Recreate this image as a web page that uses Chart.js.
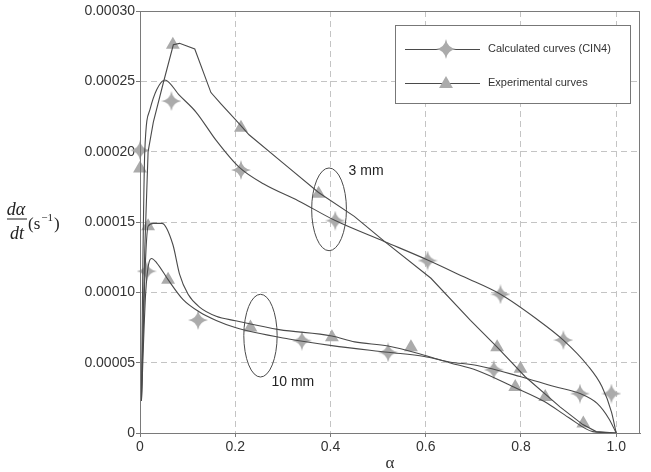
<!DOCTYPE html>
<html>
<head>
<meta charset="utf-8">
<script src="https://cdn.jsdelivr.net/npm/chart.js@4.4.1/dist/chart.umd.min.js"></script>
<style>
    html, body { margin: 0; padding: 0; background: #fff; }
    #wrap { width: 651px; height: 472px; }
</style>
</head>
<body>
<div id="wrap"><canvas id="chart" width="651" height="472"></canvas></div>
<script>
// Curves (alpha vs d(alpha)/dt in 1/s)
const calc3Alpha = [0.003, 0.006, 0.010, 0.021, 0.035, 0.052, 0.083, 0.118, 0.160, 0.208, 0.260, 0.333, 0.410, 0.514, 0.604, 0.680, 0.757, 0.833, 0.889, 0.940, 0.970, 0.990, 1.000];
const calc3Rate = [0.000023, 0.000120, 0.000200, 0.000230, 0.000244, 0.000251, 0.000240, 0.000228, 0.000208, 0.000189, 0.000177, 0.000165, 0.000151, 0.000136, 0.000123, 0.000111, 0.0000986, 0.000081, 0.000066, 0.000048, 0.000033, 0.000015, 0];

const exp3Alpha = [0.003, 0.010, 0.017, 0.028, 0.049, 0.070, 0.083, 0.115, 0.149, 0.170, 0.200, 0.229, 0.300, 0.375, 0.450, 0.514, 0.611, 0.694, 0.750, 0.809, 0.882, 0.930, 0.958, 1.000];
const exp3Rate = [0.000023, 0.000130, 0.000200, 0.000221, 0.000249, 0.000276, 0.000277, 0.000273, 0.000242, 0.000234, 0.000223, 0.000212, 0.000192, 0.000171, 0.000154, 0.000136, 0.000110, 0.000080, 0.000061, 0.000040, 0.0000186, 0.000006, 0.000001, 0];

const calc10Alpha = [0.003, 0.012, 0.024, 0.035, 0.059, 0.090, 0.125, 0.160, 0.200, 0.3125, 0.403, 0.521, 0.597, 0.650, 0.708, 0.800, 0.870, 0.924, 0.960, 0.985, 1.000];
const calc10Rate = [0.000023, 0.000100, 0.000124, 0.000121, 0.000109, 0.000095, 0.000086, 0.000080, 0.000075, 0.0000668, 0.0000621, 0.0000574, 0.0000544, 0.0000505, 0.000048, 0.000040, 0.000033, 0.000028, 0.000021, 0.000010, 0];

const exp10Alpha = [0.003, 0.010, 0.017, 0.028, 0.046, 0.069, 0.083, 0.101, 0.125, 0.160, 0.201, 0.292, 0.403, 0.451, 0.521, 0.597, 0.650, 0.708, 0.785, 0.851, 0.900, 0.951, 1.000];
const exp10Rate = [0.000023, 0.000110, 0.000147, 0.000149, 0.000149, 0.000134, 0.000113, 0.0000986, 0.0000895, 0.000083, 0.0000798, 0.0000735, 0.0000690, 0.0000648, 0.0000618, 0.0000553, 0.000050, 0.0000445, 0.0000327, 0.000022, 0.000011, 0.000001, 0];

// Marker points (stars = calculated, triangles = experimental)
const calc3MarkAlpha = [0.000, 0.066, 0.212, 0.410, 0.604, 0.757, 0.889, 0.990];
const calc3MarkRate = [0.000201, 0.000236, 0.000187, 0.000151, 0.0001226, 0.0000986, 0.0000661, 0.000028];
const calc10MarkAlpha = [0.014, 0.122, 0.340, 0.521, 0.743, 0.924];
const calc10MarkRate = [0.000115, 0.0000803, 0.0000657, 0.0000574, 0.000045, 0.000028];
const exp3MarkAlpha = [0.000, 0.069, 0.212, 0.375, 0.750, 0.799, 0.851, 0.931];
const exp3MarkRate = [0.000188, 0.000276, 0.000217, 0.000170, 0.000061, 0.0000457, 0.0000256, 0.0000068];
const exp10MarkAlpha = [0.017, 0.059, 0.232, 0.403, 0.569, 0.788];
const exp10MarkRate = [0.000147, 0.000109, 0.000075, 0.000068, 0.0000609, 0.0000327];

// Axis ticks
const xTicks = [0, 0.2, 0.4, 0.6, 0.8, 1.0];
const yTicks = [0, 0.00005, 0.00010, 0.00015, 0.00020, 0.00025, 0.00030];

// Ellipse groupings and their labels (data coords, radii in data units)
const groupLabels = ['3 mm', '10 mm'];
const groupCenterAlpha = [0.397, 0.253];
const groupCenterRate = [0.000159, 0.0000692];
const groupRadiusAlpha = [0.0365, 0.035];
const groupRadiusRate = [0.0000294, 0.0000294];
const groupTextAlpha = [0.438, 0.276];
const groupTextRate = [0.000186, 0.0000361];

const legendLabels = ['Calculated curves (CIN4)', 'Experimental curves'];

const LINE = '#4a4a4a';
const MARK = '#ababab';
const SANS = '"Liberation Sans", Arial, sans-serif';
const SERIF = '"Liberation Serif", "Times New Roman", serif';

const pairs = (xs, ys) => xs.map((x, i) => ({ x: x, y: ys[i] }));

// four pointed sparkle used for the calculated markers
function makeStar(size, color) {
    const c = document.createElement('canvas');
    c.width = size;
    c.height = size;
    const g = c.getContext('2d');
    const m = size / 2;
    const k = size * 0.07;
    g.fillStyle = color;
    g.beginPath();
    g.moveTo(m, 0);
    g.quadraticCurveTo(m + k, m - k, size, m);
    g.quadraticCurveTo(m + k, m + k, m, size);
    g.quadraticCurveTo(m - k, m + k, 0, m);
    g.quadraticCurveTo(m - k, m - k, m, 0);
    g.fill();
    g.beginPath();
    g.arc(m, m, size * 0.12, 0, Math.PI * 2);
    g.fill();
    return c;
}
const starImg = makeStar(20, MARK);

function drawTriangle(ctx, x, y, r) {
    ctx.beginPath();
    ctx.moveTo(x, y - r);
    ctx.lineTo(x + r * 0.866, y + r / 2);
    ctx.lineTo(x - r * 0.866, y + r / 2);
    ctx.closePath();
    ctx.fill();
}

const overlay = {
    id: 'overlay',
    afterDatasetsDraw(chart) {
        const ctx = chart.ctx;
        const xs = chart.scales.x;
        const ys = chart.scales.y;
        ctx.save();
        ctx.strokeStyle = LINE;
        ctx.lineWidth = 1;
        groupLabels.forEach((label, i) => {
            const cx = xs.getPixelForValue(groupCenterAlpha[i]);
            const cy = ys.getPixelForValue(groupCenterRate[i]);
            const rx = xs.getPixelForValue(groupCenterAlpha[i] + groupRadiusAlpha[i]) - cx;
            const ry = cy - ys.getPixelForValue(groupCenterRate[i] + groupRadiusRate[i]);
            ctx.beginPath();
            ctx.ellipse(cx, cy, rx, ry, 0, 0, Math.PI * 2);
            ctx.stroke();
            ctx.fillStyle = '#222';
            ctx.font = '14px ' + SANS;
            ctx.textAlign = 'left';
            ctx.textBaseline = 'middle';
            ctx.fillText(label, xs.getPixelForValue(groupTextAlpha[i]), ys.getPixelForValue(groupTextRate[i]));
        });
        ctx.restore();
    },
    afterDraw(chart) {
        const ctx = chart.ctx;
        const a = chart.chartArea;
        ctx.save();

        // box around the plot
        ctx.strokeStyle = '#7a7a7a';
        ctx.lineWidth = 1;
        ctx.strokeRect(Math.round(a.left) + 0.5, Math.round(a.top) + 0.5,
            Math.round(a.right - a.left) - 1, Math.round(a.bottom - a.top));

        // legend
        const lx = 395, ly = 25, lw = 235, lh = 78;
        ctx.fillStyle = '#fff';
        ctx.fillRect(lx, ly, lw, lh);
        ctx.strokeStyle = '#777';
        ctx.strokeRect(lx + 0.5, ly + 0.5, lw, lh);
        const rows = [49, 83];
        ctx.font = '11px ' + SANS;
        ctx.textBaseline = 'middle';
        ctx.textAlign = 'left';
        rows.forEach((ry, i) => {
            ctx.strokeStyle = LINE;
            ctx.beginPath();
            ctx.moveTo(405, ry + 0.5);
            ctx.lineTo(480, ry + 0.5);
            ctx.stroke();
            if (i === 0) {
                ctx.drawImage(starImg, 446 - 10, ry - 10);
            } else {
                ctx.fillStyle = MARK;
                drawTriangle(ctx, 446, ry + 1, 8);
            }
            ctx.fillStyle = '#333';
            ctx.fillText(legendLabels[i], 488, ry);
        });

        // x title
        ctx.fillStyle = '#333';
        ctx.font = '17px ' + SERIF;
        ctx.textAlign = 'center';
        ctx.textBaseline = 'alphabetic';
        ctx.fillText('α', (a.left + a.right) / 2, 468);

        // y title as a fraction d(alpha)/dt (s^-1)
        ctx.fillStyle = '#222';
        ctx.font = 'italic 18px ' + SERIF;
        ctx.textAlign = 'center';
        ctx.fillText('dα', 16, 215);
        ctx.fillText('dt', 17, 239);
        ctx.fillRect(7, 218.5, 20, 1);
        ctx.font = '17px ' + SERIF;
        ctx.textAlign = 'left';
        ctx.fillText('(s', 28, 229);
        const sw = ctx.measureText('(s').width;
        ctx.font = '11px ' + SERIF;
        ctx.fillText('−1', 28 + sw + 1, 221);
        const ew = ctx.measureText('−1').width;
        ctx.font = '17px ' + SERIF;
        ctx.fillText(')', 28 + sw + ew + 2, 229);
        ctx.restore();
    }
};

const lineStyle = {
    borderColor: LINE,
    borderWidth: 1.1,
    pointRadius: 0,
    fill: false,
    cubicInterpolationMode: 'monotone',
    order: 1
};

new Chart(document.getElementById('chart').getContext('2d'), {
    type: 'line',
    data: {
        datasets: [
            { ...lineStyle, label: 'calc 3 mm', data: pairs(calc3Alpha, calc3Rate) },
            // the measured 3 mm curve has sharp corners, so keep straight segments
            { ...lineStyle, label: 'exp 3 mm', data: pairs(exp3Alpha, exp3Rate), cubicInterpolationMode: 'default', tension: 0 },
            { ...lineStyle, label: 'calc 10 mm', data: pairs(calc10Alpha, calc10Rate) },
            { ...lineStyle, label: 'exp 10 mm', data: pairs(exp10Alpha, exp10Rate) },
            {
                type: 'scatter', label: 'calc markers', order: 2, clip: false,
                data: pairs(calc3MarkAlpha.concat(calc10MarkAlpha), calc3MarkRate.concat(calc10MarkRate)),
                pointStyle: starImg, pointRadius: 10
            },
            {
                type: 'scatter', label: 'exp markers', order: 2, clip: false,
                data: pairs(exp3MarkAlpha.concat(exp10MarkAlpha), exp3MarkRate.concat(exp10MarkRate)),
                pointStyle: 'triangle', pointRadius: 8,
                backgroundColor: MARK, borderColor: MARK, borderWidth: 0
            }
        ]
    },
    options: {
        responsive: false,
        animation: false,
        devicePixelRatio: 1,
        layout: { padding: { top: 8, right: 8, left: 0, bottom: 0 } },
        plugins: {
            legend: { display: false },
            tooltip: { enabled: false }
        },
        scales: {
            x: {
                type: 'linear',
                min: 0,
                max: 1.05,
                afterFit: (scale) => { scale.height = 39; },
                afterBuildTicks: (scale) => { scale.ticks = xTicks.map(v => ({ value: v })); },
                ticks: {
                    color: '#333',
                    font: { family: SANS, size: 14 },
                    padding: 2,
                    maxRotation: 0,
                    callback: (v) => v === 0 ? '0' : v.toFixed(1)
                },
                grid: { color: '#c4c4c4', tickColor: '#7a7a7a', tickLength: 4, tickBorderDash: [] },
                border: { display: true, color: '#7a7a7a', width: 1, dash: [6, 4] }
            },
            y: {
                type: 'linear',
                min: 0,
                max: 0.0003,
                afterFit: (scale) => { scale.width = 140; },
                afterBuildTicks: (scale) => { scale.ticks = yTicks.map(v => ({ value: v })); },
                ticks: {
                    color: '#333',
                    font: { family: SANS, size: 14, lineHeight: 1 },
                    padding: 1,
                    callback: (v) => v === 0 ? '0' : v.toFixed(5)
                },
                grid: { color: '#c4c4c4', tickColor: '#7a7a7a', tickLength: 4, tickBorderDash: [] },
                border: { display: true, color: '#7a7a7a', width: 1, dash: [6, 4] }
            }
        }
    },
    plugins: [overlay]
});
</script>
</body>
</html>
